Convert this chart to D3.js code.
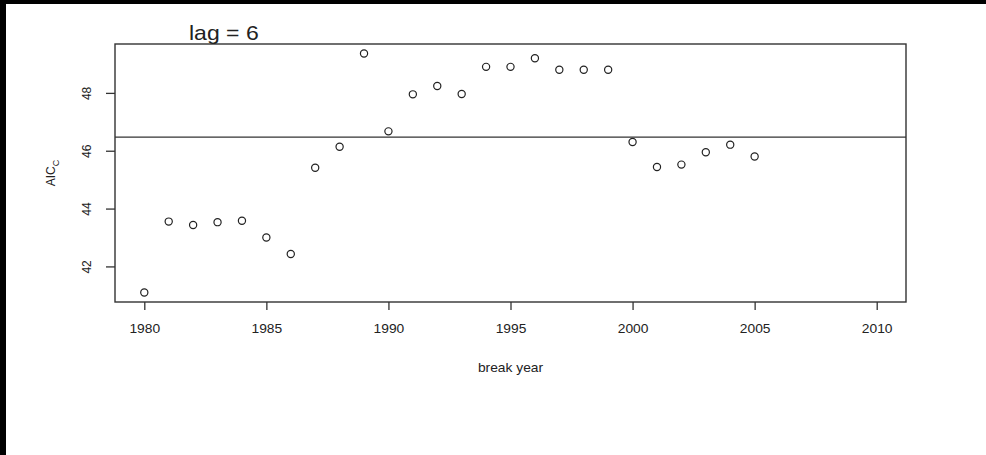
<!DOCTYPE html>
<html lang="en">
<head>
<meta charset="UTF-8">
<title>lag = 6</title>
<script src="https://d3js.org/d3.v7.min.js"></script>
<style>
  body { margin: 0; background: #000; }
  svg { display: block; }
  text { font-family: "Liberation Sans", Arial, sans-serif; fill: #222; }
</style>
</head>
<body>
<svg id="chart" width="986" height="455"></svg>
<script>
// data
const years = [1980, 1981, 1982, 1983, 1984, 1985, 1986, 1987, 1988, 1989,
               1990, 1991, 1992, 1993, 1994, 1995, 1996, 1997, 1998, 1999,
               2000, 2001, 2002, 2003, 2004, 2005];
const aicc = [41.10, 43.55, 43.43, 43.53, 43.58, 43.00, 42.43, 45.41, 46.14, 49.36,
              46.67, 47.95, 48.24, 47.96, 48.90, 48.90, 49.20, 48.80, 48.80, 48.80,
              46.30, 45.44, 45.52, 45.95, 46.21, 45.80];
const refLine = 46.47;
const xTicks = [1980, 1985, 1990, 1995, 2000, 2005, 2010];
const yTicks = [42, 44, 46, 48];
const title = "lag = 6";

const svg = d3.select("#chart");
// page background: white sheet with dark strip on top and left
svg.append("rect").attr("width", 986).attr("height", 455).attr("fill", "#000");
svg.append("rect").attr("x", 6).attr("y", 4).attr("width", 980).attr("height", 451).attr("fill", "#fff");

var margin = { top: 44, right: 80, bottom: 153, left: 115 },
    width = 986 - margin.left - margin.right,
    height = 455 - margin.top - margin.bottom;

// R style 4% padding around the axis limits
var xlim = [1980, 2010], ylim = d3.extent(aicc);
var xpad = (xlim[1] - xlim[0]) * 0.04, ypad = (ylim[1] - ylim[0]) * 0.04;

var x = d3.scaleLinear().domain([xlim[0] - xpad, xlim[1] + xpad]).range([0, width]);
var y = d3.scaleLinear().domain([ylim[0] - ypad, ylim[1] + ypad]).range([height, 0]);

var g = svg.append("g").attr("transform", "translate(" + margin.left + "," + margin.top + ")");

var stretch = "scale(1.15,1)";

var xAxis = d3.axisBottom(x).tickValues(xTicks).tickFormat(d3.format("d")).tickSize(8).tickPadding(14);
var gx = g.append("g").attr("transform", "translate(0," + height + ")").call(xAxis);
gx.select(".domain").remove();
gx.selectAll("line").attr("stroke", "#333").attr("stroke-width", 1.3);
gx.selectAll("text").attr("font-size", 12).attr("fill", "#222").attr("transform", stretch);

var yAxis = d3.axisLeft(y).tickValues(yTicks).tickSize(9).tickPadding(10);
var gy = g.append("g").call(yAxis);
gy.select(".domain").remove();
gy.selectAll("line").attr("stroke", "#333").attr("stroke-width", 1.3);
gy.selectAll("text")
  .attr("font-size", 12).attr("fill", "#222")
  .attr("text-anchor", "middle").attr("x", 0).attr("y", 0).attr("dy", null)
  .attr("transform", "translate(-24,0) rotate(-90)");

// plot box
g.append("rect").attr("width", width).attr("height", height)
  .attr("fill", "none").attr("stroke", "#333").attr("stroke-width", 1.4);

// reference line
g.append("line")
  .attr("x1", 0).attr("x2", width)
  .attr("y1", y(refLine)).attr("y2", y(refLine))
  .attr("stroke", "#333").attr("stroke-width", 1.4);

// points
g.selectAll("circle.pt").data(years).join("circle")
  .attr("class", "pt")
  .attr("cx", d => x(d))
  .attr("cy", (d, i) => y(aicc[i]))
  .attr("r", 3.6)
  .attr("fill", "none").attr("stroke", "#222").attr("stroke-width", 1.2);

// axis titles
g.append("text")
  .attr("transform", "translate(" + (width / 2) + "," + (height + 70) + ") " + stretch)
  .attr("text-anchor", "middle").attr("font-size", 12)
  .text("break year");

var yl = g.append("text")
  .attr("transform", "translate(-60," + (height / 2) + ") rotate(-90)")
  .attr("text-anchor", "middle").attr("font-size", 12);
yl.append("tspan").text("AIC");
yl.append("tspan").attr("font-size", 9).attr("dy", 4).text("C");

// main title
svg.append("text")
  .attr("transform", "translate(189,40) " + stretch)
  .attr("font-size", 20).attr("fill", "#111")
  .text(title);
</script>
</body>
</html>
